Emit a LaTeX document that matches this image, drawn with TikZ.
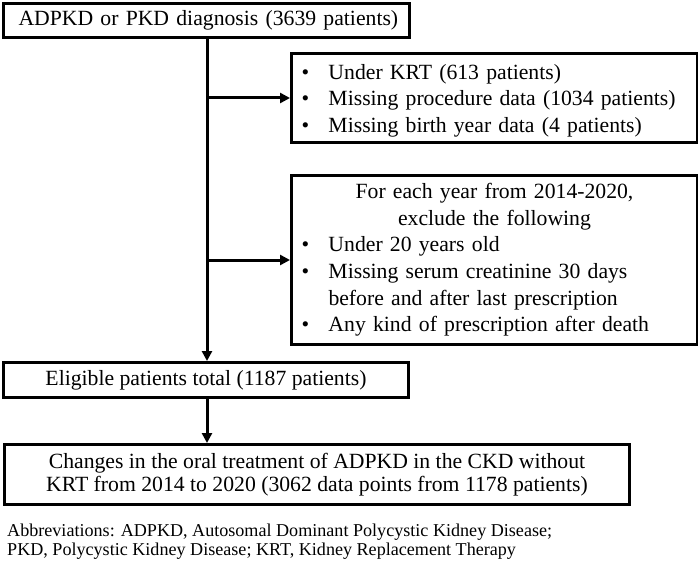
\documentclass[tikz,border=0pt]{standalone}
\usepackage{fontspec}
\setmainfont{Liberation Serif}
\usepackage{tikz}
\usetikzlibrary{arrows.meta, positioning}
\def\bul{\makebox[27pt][l]{\textbullet}}

\begin{document}
\begin{tikzpicture}[x=1pt, y=-1pt,
  box/.style={draw, line width=3pt, anchor=north west, inner ysep=0pt, font=\fontsize{21.7}{26.6}\selectfont},
  conn/.style={line width=3pt, -{Triangle[length=10pt, width=10pt]}}]
\useasboundingbox (0,0) rectangle (698,561);

\node[box, minimum width=406pt, minimum height=34pt, text width=376pt, inner xsep=15pt, align=left] (diag) at (2,2) {\mbox{ADPKD or PKD diagnosis (3639 patients)}};
\node[box, minimum width=406pt, minimum height=89pt, text width=386pt, inner xsep=10pt, align=left] (excl) at (290,52)
  {\bul\rule{0pt}{20pt}Under KRT (613 patients)\\ \bul Missing procedure data (1034 patients)\\ \bul Missing birth year data (4 patients)};
\node[box, minimum width=406pt, minimum height=169pt, text width=386pt, inner xsep=10pt, align=left] (yearly) at (290,174)
  {\makebox[386pt]{For each year from 2014-2020,}\\ \makebox[386pt]{exclude the following}\\
   \bul Under 20 years old\\ \bul Missing serum creatinine 30 days\\ \hspace*{27pt}before and after last prescription\\ \bul Any kind of prescription after death};
\node[box, minimum width=405pt, minimum height=35pt, align=center] (elig) at (2,361) {Eligible patients total (1187 patients)};
\node[box, minimum width=625pt, minimum height=60pt, align=center, font=\fontsize{21.7}{23}\selectfont] (study) at (3,443)
  {Changes in the oral treatment of ADPKD in the CKD without\\ KRT from 2014 to 2020 (3062 data points from 1178 patients)};
\node[anchor=base west, inner sep=0pt, align=left, font=\fontsize{18.1}{18.5}\selectfont] (abbr) at (7,555)
  {Abbreviations: ADPKD, Autosomal Dominant Polycystic Kidney Disease;\\ PKD, Polycystic Kidney Disease; KRT, Kidney Replacement Therapy};

\coordinate (trunk) at (207,0);
\draw[conn] (diag.south -| trunk) -- (elig.north -| trunk);
\draw[conn] (excl.west -| trunk) -- (excl.west);
\draw[conn] (yearly.west -| trunk) -- (yearly.west);
\draw[conn] (elig.south -| trunk) -- (study.north -| trunk);
\end{tikzpicture}
\end{document}
